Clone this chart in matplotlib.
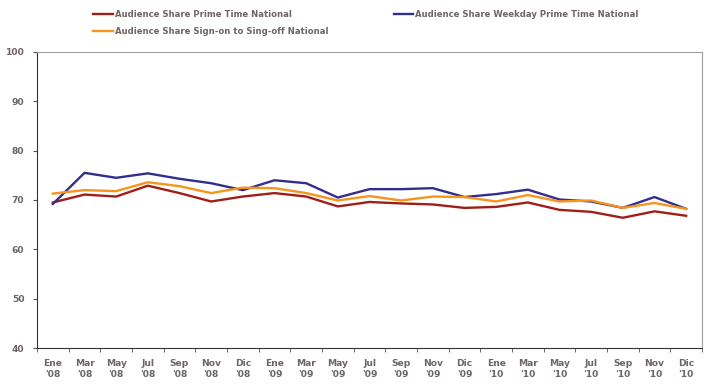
import numpy as np
import matplotlib.pyplot as plt

# etiquetes de l'eix x (mesos)
meses = ["Ene\n'08", "Mar\n'08", "May\n'08", "Jul\n'08", "Sep\n'08", "Nov\n'08", "Dic\n'08",
         "Ene\n'09", "Mar\n'09", "May\n'09", "Jul\n'09", "Sep\n'09", "Nov\n'09", "Dic\n'09",
         "Ene\n'10", "Mar\n'10", "May\n'10", "Jul\n'10", "Sep\n'10", "Nov\n'10", "Dic\n'10"]

prime = [69.5, 71.1, 70.7, 72.9, 71.4, 69.7, 70.7, 71.4, 70.7, 68.7, 69.6,
         69.3, 69.1, 68.4, 68.6, 69.5, 68.0, 67.6, 66.4, 67.7, 66.8]
weekday = [69.2, 75.5, 74.5, 75.4, 74.3, 73.4, 72.0, 74.0, 73.4, 70.5, 72.2,
           72.2, 72.4, 70.6, 71.2, 72.1, 70.1, 69.7, 68.4, 70.6, 68.2]
signon = [71.3, 72.0, 71.8, 73.6, 72.8, 71.4, 72.5, 72.4, 71.4, 69.9, 70.8,
          69.9, 70.7, 70.6, 69.7, 71.0, 69.7, 69.9, 68.4, 69.4, 68.2]

gris = '#6e6464'

fig = plt.figure(figsize=(7.12, 3.89), dpi=100)
ax = fig.add_axes([37/712, 41/389, 665/712, 296/389])

x = np.arange(len(meses))
l1, = ax.plot(x, prime, color='#a01e18', lw=1.7)
l2, = ax.plot(x, weekday, color='#332e8c', lw=1.7)
l3, = ax.plot(x, signon, color='#f7941d', lw=1.7)

ax.set_xlim(-0.5, len(meses) - 0.5)
ax.set_ylim(40, 100)
ax.set_yticks(np.arange(40, 101, 10))
ax.set_xticks(x)
ax.set_xticklabels(meses, fontweight='bold', fontsize=6.6, color=gris,
                   linespacing=1.25)
ax.set_xticks(np.arange(-0.5, len(meses), 1), minor=True)
ax.tick_params(axis='x', which='major', length=0, pad=8)
ax.tick_params(axis='x', which='minor', length=3, color='#555555')
ax.tick_params(axis='y', length=3, color='#555555', pad=6)
for t in ax.get_yticklabels():
    t.set_fontweight('bold')
    t.set_fontsize(6.6)
    t.set_color(gris)

ax.spines['left'].set_color('#333333')
ax.spines['bottom'].set_color('#333333')
ax.spines['top'].set_color('#a0a0a0')
ax.spines['right'].set_color('#a0a0a0')

leg = fig.legend([l1, l3, l2],
                 ['Audience Share Prime Time National',
                  'Audience Share Sign-on to Sing-off National',
                  'Audience Share Weekday Prime Time National'],
                 ncol=2, loc='upper left', bbox_to_anchor=(89/712, 1 - 6/389),
                 frameon=False, borderpad=0, handlelength=2.35, handletextpad=0.2,
                 columnspacing=7.7, labelspacing=0.95,
                 prop={'weight': 'bold', 'size': 6.1})
for t in leg.get_texts():
    t.set_color(gris)

fig.savefig('out.png', dpi=100)
